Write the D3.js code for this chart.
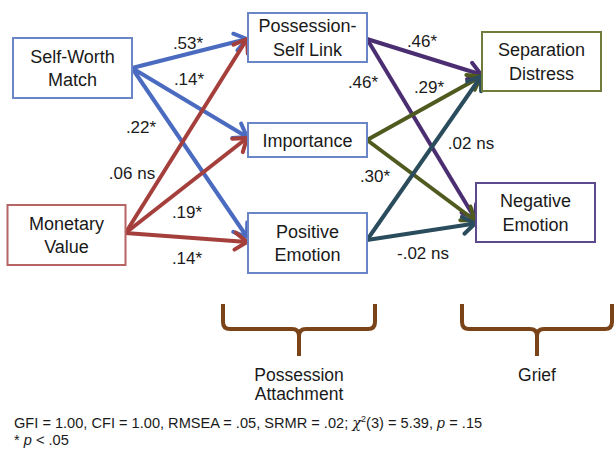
<!DOCTYPE html>
<html>
<head>
<meta charset="utf-8">
<script src="https://cdn.jsdelivr.net/npm/d3@7"></script>
<style>
  body { margin: 0; background: #fff; }
  text { font-family: "Liberation Sans", Arial, sans-serif; fill: #1a1a1a; }
</style>
</head>
<body>
<div id="chart"></div>
<script>
// nodes of the path model
const nodeIds = ["sw", "mv", "psl", "imp", "pe", "sd", "ne"]
const nodeLabels = [
    ["Self-Worth", "Match"],
    ["Monetary", "Value"],
    ["Possession-", "Self Link"],
    ["Importance"],
    ["Positive", "Emotion"],
    ["Separation", "Distress"],
    ["Negative", "Emotion"]
]
const nodeColumn = [0, 0, 1, 1, 1, 2, 2]

// paths with coefficients
const pathFrom = ["sw", "sw", "sw", "mv", "mv", "mv", "psl", "psl", "imp", "imp", "pe", "pe"]
const pathTo = ["psl", "imp", "pe", "psl", "imp", "pe", "sd", "ne", "sd", "ne", "sd", "ne"]
const pathCoef = [".53*", ".14*", ".22*", ".06 ns", ".19*", ".14*", ".46*", ".46*", ".29*", ".30*", ".02 ns", "-.02 ns"]

// groupings under braces
const groupNames = [["Possession", "Attachment"], ["Grief"]]
const fitText = "GFI = 1.00, CFI = 1.00, RMSEA = .05, SRMR = .02; "

const width = 614, height = 454

// layout (positions / styles)
const nodeLayout = {
    sw: { dx: 3, cy: 68, w: 119, h: 60, stroke: "#6a86c6" },
    mv: { dx: -3, cy: 235, w: 118, h: 60, stroke: "#b66464" },
    psl: { dx: 3, cy: 37.5, w: 119, h: 49, stroke: "#6a86c6" },
    imp: { dx: 3, cy: 140, w: 119, h: 34, stroke: "#6a86c6" },
    pe: { dx: 3, cy: 243, w: 119, h: 60, stroke: "#6a86c6" },
    sd: { dx: 2, cy: 61.5, w: 119, h: 59, stroke: "#6f7c3c" },
    ne: { dx: -4, cy: 212.5, w: 119, h: 59, stroke: "#5d4a8c" }
}
const sourceColor = { sw: "#4a6bbf", mv: "#a53f3c", psl: "#4b2e72", imp: "#4f5a1e", pe: "#2b4c5c" }
// offsets of start/end y from box centre, and label placement
const pathLayout = [
    { sy: 0, ey: 1.5, lx: 188, ly: 43 },
    { sy: 0, ey: -3, lx: 189, ly: 79 },
    { sy: 0, ey: -6, lx: 141, ly: 127 },
    { sy: -2, ey: 1.5, lx: 132, ly: 173 },
    { sy: -2, ey: -2, lx: 187, ly: 212 },
    { sy: -2, ey: -1, lx: 187, ly: 258 },
    { sy: 1.5, ey: 13, lx: 422, ly: 41 },
    { sy: 1.5, ey: 6, lx: 363, ly: 82 },
    { sy: 0, ey: 15, lx: 429, ly: 87 },
    { sy: 0, ey: 8, lx: 375, ly: 176 },
    { sy: -3, ey: 15, lx: 471, ly: 143 },
    { sy: -3, ey: 11, lx: 423, ly: 253 }
]

const xCol = d3.scalePoint().domain([0, 1, 2]).range([69.5, 539.5])

const svg = d3.select("#chart").append("svg")
    .attr("width", width).attr("height", height)

const nodes = nodeIds.map((id, i) => {
    const l = nodeLayout[id]
    const cx = xCol(nodeColumn[i]) + l.dx
    return { id, label: nodeLabels[i], cx, cy: l.cy, w: l.w, h: l.h, stroke: l.stroke }
})
const byId = {}
nodes.forEach(n => byId[n.id] = n)

const edges = pathFrom.map((f, i) => {
    const s = byId[f], t = byId[pathTo[i]], pl = pathLayout[i]
    return {
        x1: s.cx + s.w / 2, y1: s.cy + pl.sy,
        x2: t.cx - t.w / 2, y2: t.cy + pl.ey,
        color: sourceColor[f], coef: pathCoef[i], lx: pl.lx, ly: pl.ly
    }
})

//chevron markers, one per colour
const defs = svg.append("defs")
Object.entries(sourceColor).forEach(([k, c]) => {
    defs.append("marker")
        .attr("id", "head-" + k)
        .attr("markerUnits", "userSpaceOnUse")
        .attr("viewBox", "-18 -13 22 26")
        .attr("markerWidth", 22).attr("markerHeight", 26)
        .attr("refX", 0).attr("refY", 0)
        .attr("orient", "auto")
        .append("path")
        .attr("d", "M-12,-8.5 L0,0 L-12,8.5")
        .attr("fill", "none")
        .attr("stroke", c)
        .attr("stroke-width", 4)
        .attr("stroke-linecap", "round")
        .attr("stroke-linejoin", "round")
})

svg.append("g").selectAll("line").data(edges).enter().append("line")
    .attr("x1", d => d.x1).attr("y1", d => d.y1)
    .attr("x2", d => d.x2 - 1).attr("y2", d => d.y2)
    .attr("stroke", d => d.color)
    .attr("stroke-width", 4)
    .attr("marker-end", (d, i) => `url(#head-${pathFrom[i]})`)

// boxes
const box = svg.append("g").selectAll("g").data(nodes).enter().append("g")
box.append("rect")
    .attr("x", d => d.cx - d.w / 2).attr("y", d => d.cy - d.h / 2)
    .attr("width", d => d.w).attr("height", d => d.h)
    .attr("fill", "#fff")
    .attr("stroke", d => d.stroke)
    .attr("stroke-width", 2)
box.each(function (d) {
    const lh = 23.5
    const n = d.label.length
    d3.select(this).selectAll("text").data(d.label).enter().append("text")
        .attr("x", d.cx)
        .attr("y", (t, j) => d.cy + (j - (n - 1) / 2) * lh + 6.5)
        .attr("text-anchor", "middle")
        .attr("font-size", 18)
        .text(t => t)
})

// coefficient labels
svg.append("g").selectAll("text").data(edges).enter().append("text")
    .attr("x", d => d.lx).attr("y", d => d.ly + 6)
    .attr("text-anchor", "middle")
    .attr("font-size", 17)
    .text(d => d.coef)

// braces
function bracePath(L, R, top, mid, tip) {
    const r = 7
    const c = (L + R) / 2
    return `M${L},${top} V${mid - r} Q${L},${mid} ${L + r},${mid} H${c - r} Q${c},${mid} ${c},${mid + r} V${tip}` +
        ` M${c},${mid + r} Q${c},${mid} ${c + r},${mid} H${R - r} Q${R},${mid} ${R},${mid - r} V${top}`
}
const braceSpan = [[223, 375], [462, 612]]
braceSpan.forEach((b, i) => {
    svg.append("path")
        .attr("d", bracePath(b[0], b[1], 304, 329, 356))
        .attr("fill", "none")
        .attr("stroke", "#7a4418")
        .attr("stroke-width", 4)
    svg.selectAll(null).data(groupNames[i]).enter().append("text")
        .attr("x", (b[0] + b[1]) / 2)
        .attr("y", (t, j) => 381 + j * 19)
        .attr("text-anchor", "middle")
        .attr("font-size", 17.5)
        .text(t => t)
})

// fit statistics
const fit = svg.append("text").attr("x", 14).attr("y", 428).attr("font-size", 14.6)
fit.append("tspan").text(fitText)
fit.append("tspan").attr("font-style", "italic").attr("font-family", "DejaVu Serif, serif").text("\u03c7")
fit.append("tspan").attr("dy", -6).attr("font-size", 9).text("2")
fit.append("tspan").attr("dy", 6).text("(3) = 5.39, ")
fit.append("tspan").attr("font-style", "italic").text("p")
fit.append("tspan").text(" = .15")

const note = svg.append("text").attr("x", 14).attr("y", 445).attr("font-size", 14.6)
note.append("tspan").text("* ")
note.append("tspan").attr("font-style", "italic").text("p")
note.append("tspan").text(" < .05")
</script>
</body>
</html>
